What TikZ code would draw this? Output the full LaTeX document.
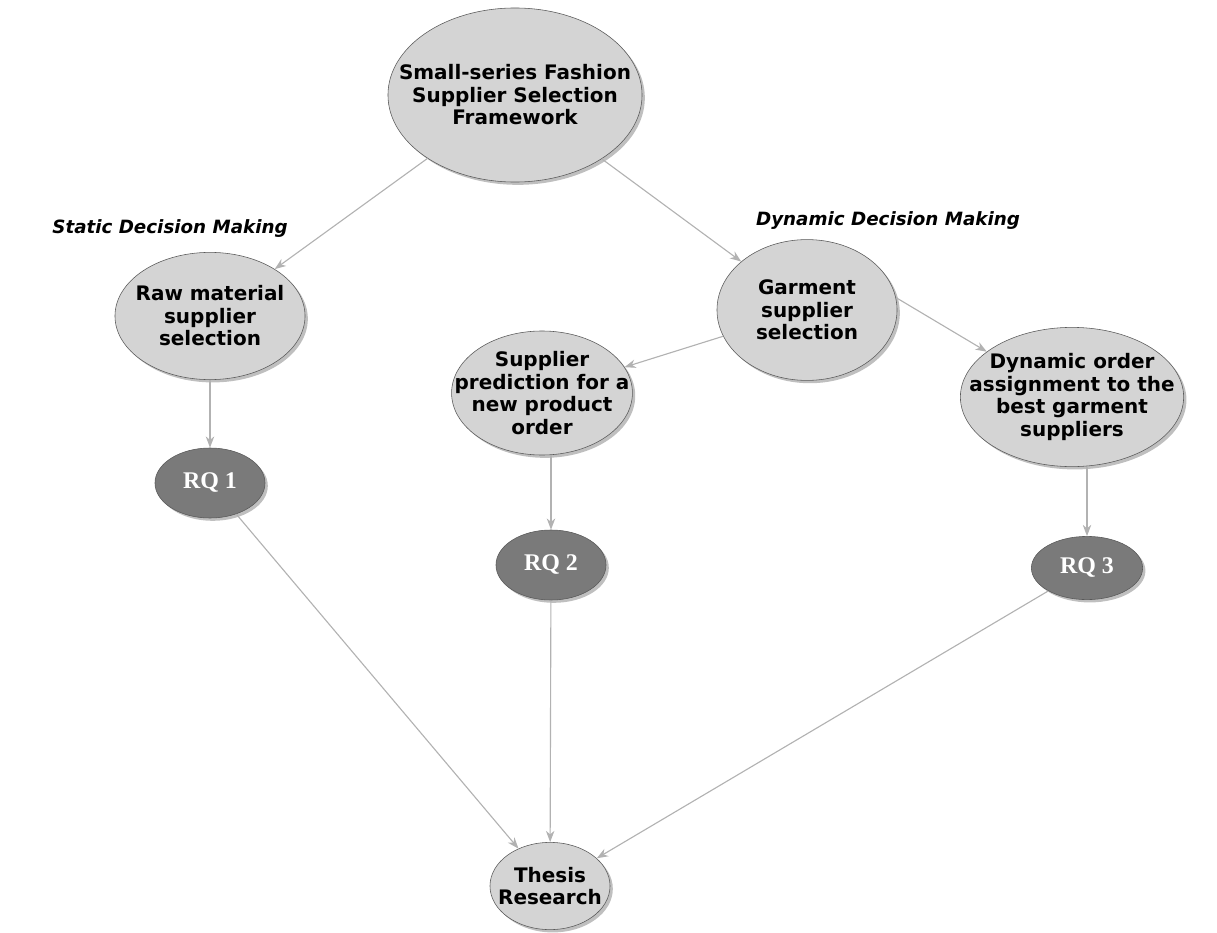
\documentclass[tikz,border=0pt]{standalone}
\usepackage{fontspec}
\setmainfont{DejaVu Sans}
\newfontfamily\rqfont{Liberation Serif}
\usetikzlibrary{shapes.geometric,arrows.meta,shadows,positioning}

\begin{document}
\begin{tikzpicture}[
    x=0.025cm, y=-0.025cm,
    bubble/.style={ellipse, draw=black!65, fill=black!17, inner sep=0pt, drop shadow={shadow xshift=2pt, shadow yshift=-2pt, fill=black!50, opacity=0.5}},
    rq/.style={bubble, fill=black!52},
    txt/.style={align=center, inner sep=0pt, font=\fontsize{14.2}{16}\selectfont\bfseries},
    rqtxt/.style={text=white, inner sep=0pt, font=\fontsize{17}{20}\rqfont\bfseries},
    tag/.style={font=\fontsize{13}{15}\selectfont\bfseries\itshape},
    arrow/.style={->, >={Stealth[length=8pt, width=6pt, inset=2.5pt]}, black!30, thick},
]
\useasboundingbox (0,0) rectangle (1217,933);
\node[bubble, minimum width=6.35cm, minimum height=4.35cm, label={[txt]center:Small-series Fashion\\Supplier Selection\\Framework}] (frame) at (515,95) {};
\node[bubble, minimum width=4.75cm, minimum height=3.18cm, label={[txt]center:Raw material\\supplier\\selection}] (raw) at (210,316) {};
\node[bubble, minimum width=4.5cm, minimum height=3.52cm, label={[txt]center:Garment\\supplier\\selection}] (garment) at (807,310) {};
\node[bubble, minimum width=4.52cm, minimum height=3.1cm, label={[txt]center:Supplier\\prediction for a\\new product\\order}] (predict) at (542,393) {};
\node[bubble, minimum width=5.58cm, minimum height=3.48cm, label={[txt]center:Dynamic order\\assignment to the\\best garment\\suppliers}] (assign) at (1072,397) {};
\node[rq, minimum width=2.75cm, minimum height=1.75cm, label={[rqtxt]center:RQ 1}] (rq1) at (210,483) {};
\node[rq, minimum width=2.75cm, minimum height=1.75cm, label={[rqtxt]center:RQ 2}] (rq2) at (551,565) {};
\node[rq, minimum width=2.78cm, minimum height=1.58cm, label={[rqtxt]center:RQ 3}] (rq3) at (1087,568) {};
\node[bubble, minimum width=3cm, minimum height=2.18cm, label={[txt]center:Thesis\\Research}] (thesis) at (550,886) {};
\node[tag] (static) at (170,229) {Static Decision Making};
\node[tag] (dynamic) at (888,221) {Dynamic Decision Making};
% connectors
\draw[arrow] (frame) -- (raw);
\draw[arrow] (frame) -- (garment);
\draw[arrow] (garment) -- (predict);
\draw[arrow] (garment.8) -- (assign.152);
\draw[arrow] (raw) -- (rq1);
\draw[arrow] (predict.south -| rq2.north) -- (rq2.north);
\draw[arrow] (assign.south -| rq3.north) -- (rq3.north);
\draw[arrow] (rq1) -- (thesis);
\draw[arrow] (rq2) -- (thesis);
\draw[arrow] (rq3) -- (thesis);
\end{tikzpicture}
\end{document}
